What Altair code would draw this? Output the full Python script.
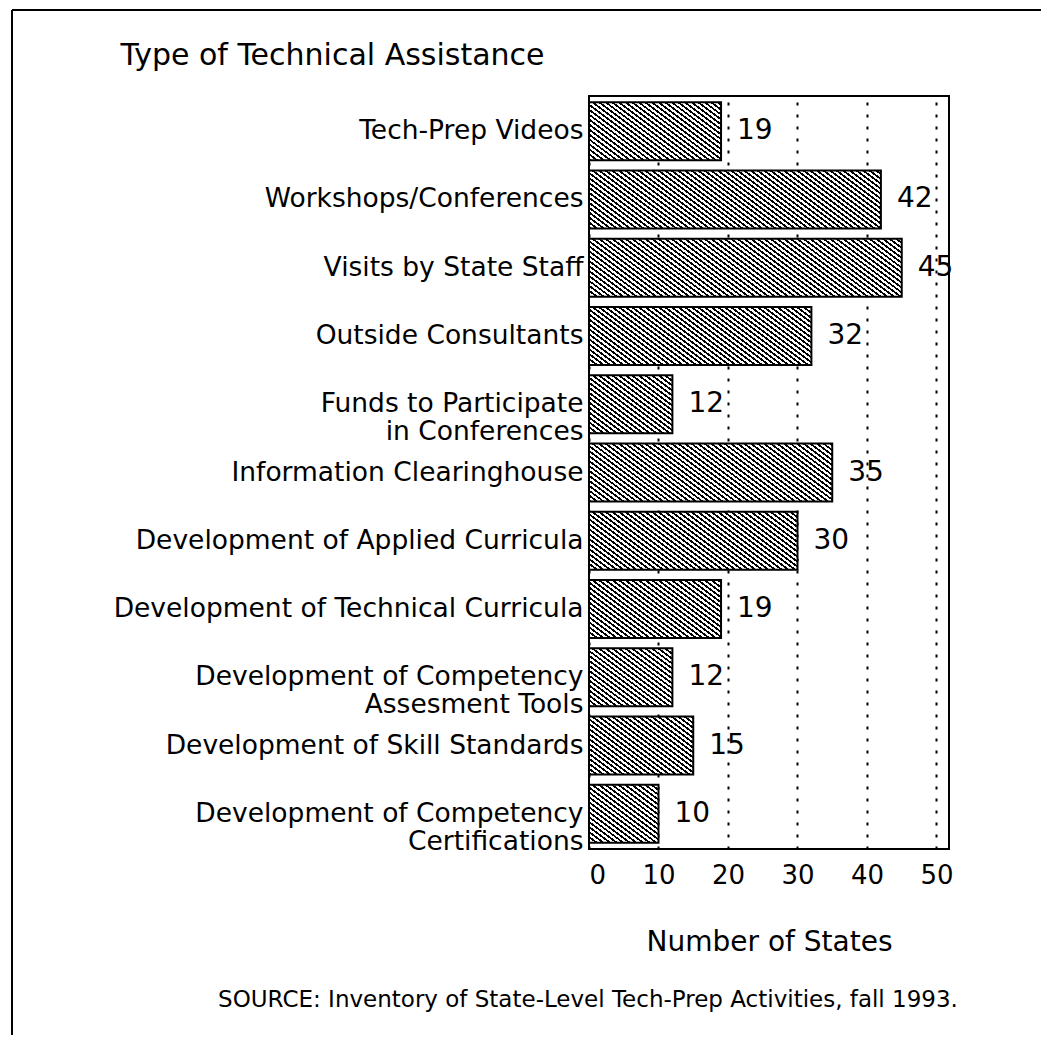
import altair as alt
import pandas as pd

# ---- data ----
categories = [
    "Tech-Prep Videos",
    "Workshops/Conferences",
    "Visits by State Staff",
    "Outside Consultants",
    "Funds to Participate|in Conferences",
    "Information Clearinghouse",
    "Development of Applied Curricula",
    "Development of Technical Curricula",
    "Development of Competency|Assesment Tools",
    "Development of Skill Standards",
    "Development of Competency|Certifications",
]
values = [19, 42, 45, 32, 12, 35, 30, 19, 12, 15, 10]
x_ticks = [0, 10, 20, 30, 40, 50]

title_text = "Type of Technical Assistance"
x_title = "Number of States"
source_text = "SOURCE: Inventory of State-Level Tech-Prep Activities, fall 1993."

df = pd.DataFrame({"cat": categories, "value": values})

# ---- layout ----
FONT = "DejaVu Sans"
W_PLOT, H_PLOT = 360, 753
X_MAX = 51.8
PAD_IN, PAD_OUT = 0.15, 0.09
PAD = {"left": 581, "top": 88, "right": 92, "bottom": 190}

px_per_unit = W_PLOT / X_MAX
step = H_PLOT / (len(categories) - PAD_IN + 2 * PAD_OUT)
bandwidth = step * (1 - PAD_IN)


def hatch(v, h_period=6.6, ink_frac=0.45, slope=0.75):
    """Diagonal hatch ('\\' lines) as a linear gradient in bar bbox units."""
    w = v * px_per_unit
    h = bandwidth
    m = slope
    L = m * w + h                    # range of s = m*X - Y + h over the bar
    period = m * h_period
    ink = period * ink_frac
    stops = []
    s = 0.0
    while s < L:
        a = round(s / L, 5)
        b = round(min((s + ink) / L, 1.0), 5)
        c = round(min((s + period) / L, 1.0), 5)
        stops += [
            {"offset": a, "color": "black"},
            {"offset": b, "color": "black"},
            {"offset": b, "color": "white"},
            {"offset": c, "color": "white"},
        ]
        s += period
    k = L / (m * m * w * w + h * h)
    gx = m * w * k
    gy = -h * k
    return {"gradient": "linear", "x1": 0, "y1": 1, "x2": gx, "y2": 1 + gy, "stops": stops}


x_enc = alt.X(
    "value:Q",
    scale=alt.Scale(domain=[0, X_MAX], nice=False, zero=True),
    axis=alt.Axis(
        values=x_ticks, format="d", title=x_title, grid=True, ticks=False, domain=False,
        labelFontSize=26, labelFont=FONT, labelColor="black", labelPadding=13,
        titleFontSize=28, titleFont=FONT, titleFontWeight="normal", titleColor="black",
        titlePadding=40,
        gridColor="black", gridDash=[3, 9], gridWidth=2, gridOpacity=1,
    ),
)
y_enc = alt.Y(
    "cat:N",
    sort=categories,
    scale=alt.Scale(paddingInner=PAD_IN, paddingOuter=PAD_OUT),
    axis=alt.Axis(
        title=title_text, titleAngle=0, titleAlign="left", titleBaseline="middle",
        titleX=-469, titleY=-41, titleFontSize=30, titleFont=FONT,
        titleFontWeight="normal", titleColor="black",
        labelExpr="split(datum.label, '|')", labelLineHeight=28,
        labelFontSize=26.5, labelFont=FONT, labelColor="black", labelPadding=6,
        labelLimit=700, ticks=False, domain=False, grid=False,
    ),
)

base = alt.Chart(df)

bars = [
    base.transform_filter(alt.datum.cat == c)
    .mark_bar(fill=hatch(v), stroke="black", strokeWidth=2)
    .encode(x=x_enc, y=y_enc)
    for c, v in zip(categories, values)
]

labels = base.mark_text(
    align="left", baseline="middle", dx=16, fontSize=28, font=FONT, color="black"
).encode(x=x_enc, y=y_enc, text=alt.Text("value:Q", format="d"))

one = alt.Chart(pd.DataFrame({"k": [0]}))
frame_left = one.mark_rule(color="black", strokeWidth=2).encode(
    x=alt.value(-577), y=alt.value(-86), y2=alt.value(H_PLOT + 186)
)
frame_top = one.mark_rule(color="black", strokeWidth=2).encode(
    x=alt.value(-577), x2=alt.value(W_PLOT + 92), y=alt.value(-86)
)
source = one.mark_text(
    align="center", baseline="middle", fontSize=23, font=FONT, color="black"
).encode(x=alt.value(-1), y=alt.value(904), text=alt.value(source_text))

chart = alt.layer(*bars, labels, frame_left, frame_top, source).properties(
    width=W_PLOT,
    height=H_PLOT,
    padding=PAD,
    autosize=alt.AutoSizeParams(type="none"),
    background="white",
).configure_view(stroke="black", strokeWidth=2)

chart.save("out.html", embed_options={"renderer": "svg", "actions": False})
